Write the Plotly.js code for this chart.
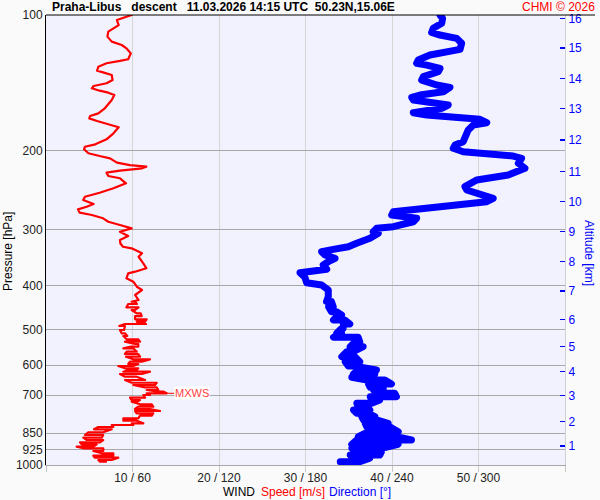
<!DOCTYPE html>
<html><head><meta charset="utf-8">
<script src="https://cdn.plot.ly/plotly-3.0.1.min.js"></script>
<style>html,body{margin:0;padding:0;background:#fafafa}#c{width:600px;height:500px}
.js-line{stroke-linejoin:round !important;stroke-linecap:round !important}</style>
</head><body><div id="c"></div>
<script>
// Wind speed profile (pressure hPa, speed m/s)
const speedP = [100,102.6,105.3,108.9,111.7,114.6,116.6,118.6,121.7,125.4,126.5,128.0,130.3,133.0,134.1,135.9,139.5,141.8,143.8,145.5,147.3,148.8,150.6,154.5,161.2,165.4,167.7,169.7,172.0,174.7,177.6,183.2,188.9,193.8,196.2,198.8,202.9,205.8,208.2,212.9,215.5,217.3,219.1,221.8,224.1,227.9,230.6,236.6,242.7,248.3,253.4,257.7,263.0,266.7,270.3,275.0,278.3,283.0,288.0,292.9,297.9,303.1,309.8,316.2,322.0,327.3,330.0,338.5,344.5,356.3,365.5,371.9,375.0,384.7,391.5,401.6,408.4,419.0,429.9,
  433.7,433.7,438.8,438.8,446.3,446.3,452.4,452.4,460.2,460.2,466.6,466.6,474.5,474.5,480.4,480.4,486.0,486.0,491.0,491.0,501.2,501.2,509.7,509.7,516.8,516.8,525.6,525.6,532.1,532.1,538.4,538.4,545.9,545.9,550.4,550.4,560.1,560.1,566.7,566.7,574.6,574.6,582.3,582.3,589.5,589.5,596.4,596.4,602.6,602.6,609.7,609.7,615.0,615.0,620.4,620.4,627.8,627.8,636.5,636.5,647.3,647.3,656.4,656.4,664.1,664.1,672.0,672.0,681.3,681.3,687.3,687.3,692.9,692.9,699.0,699.0,708.7,708.7,717.1,717.1,723.3,723.3,733.0,733.0,742.1,742.1,750.9,750.9,758.6,758.6,767.6,767.6,777.1,777.1,787.5,787.5,797.2,797.2,807.9,807.9,814.9,814.9,823.3,823.3,833.1,833.1,845.9,845.9,857.7,857.7,869.6,869.6,879.9,879.9,890.4,890.4,899.5,899.5,910.6,910.6,918.1,918.1,930.9,930.9,941.9,941.9,953.5,953.5,963.4,963.4,974.8,974.8,983.3,983.3];
const speed = [9.9,8.2,8.4,7.2,7.1,7.6,8.75,9.3,9.8,9.5,8.55,7.0,6.05,5.9,6.6,7.6,7.7,7.0,5.5,5.3,6.2,7.2,7.9,7.6,6.8,6.05,5.1,5.0,5.9,7.2,8.4,7.8,7.0,5.7,4.5,4.4,4.9,6.2,7.4,8.2,9.7,11.6,11.1,8.55,7.0,7.2,8.55,9.25,7.8,6.2,4.5,4.3,5.5,4.7,3.7,3.9,5.3,6.6,7.2,8.55,9.9,8.55,9.5,8.55,8.6,8.9,9.9,11.1,10.7,11.25,11.6,10.3,9.5,9.3,10.1,10.5,11.1,10.3,10.7,
  9.9,10.3,10.5,9.5,9.3,10.7,10.3,9.9,10.5,10.95,11.06,10.3,10.3,11.64,11.45,10.5,11.56,9.13,8.47,9.13,9.02,8.55,8.75,9.13,9.4,8.94,9.33,10.67,10.87,9.13,10.29,10.67,10.67,9.71,8.94,10.09,10.49,9.33,9.13,10.67,10.87,9.25,10.09,12.02,11.06,9.71,9.51,10.67,10.09,8.36,9.13,10.67,10.49,9.51,8.94,12.02,11.06,8.55,9.13,10.49,11.45,9.13,9.91,12.8,12.6,10.09,11.45,12.8,12.98,11.64,12.98,13.6,13.95,11.64,12.02,11.25,11.45,9.71,9.91,10.87,10.49,9.91,10.87,12.22,12.4,10.67,10.29,12.02,13.18,10.29,10.49,12.4,12.22,10.87,10.67,8.94,8.94,10.49,11.25,9.91,10.09,7.6,7.78,6.05,5.55,7.6,6.62,4.89,4.51,6.62,6.44,4.31,4.71,6.62,6.24,3.93,4.13,5.86,5.47,3.55,4.31,6.62,6.62,5.47,6.44,7.78,7.78,5.47,5.66,8.36,7.6,6.05,6.24,6.94];

// Wind direction profile (pressure hPa, direction deg)
const dirP = [100,101.7,104.3,107.0,109.3,110.8,112.7,115.6,119.2,120.7,122.7,125.9,128.0,129.2,131.4,133.7,137.1,139.5,143.1,144.8,148.1,150.6,152.4,154.5,156.3,158.5,161.2,163.2,164.9,166.8,168.8,170.5,173.5,175.6,180.1,186.4,191.2,194.5,197.8,201.3,202.9,205.8,208.2,213.6,219.1,223.0,226.8,232.6,240.7,244.8,249.9,255.5,260.0,264.4,268.9,273.6,278.3,283.0,288.0,295.4,297.9,303.1,305.6,313.5,321.6,327.3,331.7,335.8,341.5,347.3,353.4,359.4,367.4,370.0,373.8,382.7,393.5,398.1,408.4,422.7,
  433.2,433.2,444.9,444.9,456.4,456.4,464.2,464.2,476.2,476.2,486.0,486.0,496.9,496.9,509.7,509.7,520.3,520.3,532.1,532.1,545.9,545.9,560.1,560.1,574.6,574.6,589.5,589.5,602.6,602.6,615.0,615.0,627.8,627.8,638.5,638.5,647.3,647.3,660.7,660.7,672.0,672.0,681.3,681.3,692.9,692.9,705.1,705.1,717.1,717.1,729.3,729.3,742.1,742.1,754.7,754.7,767.6,767.6,781.0,781.0,794.3,794.3,807.9,807.9,822.1,822.1,843.3,843.3,865.2,865.2,879.9,879.9,899.5,899.5,918.1,918.1,934.2,934.2,950.1,950.1,966.3,966.3,983.3,983.3];
const direction = [273.3,275.1,274.5,268.6,267.5,273.3,284.9,288.3,287.2,277.9,266.3,258.2,257.1,264.1,273.3,272.1,261.7,260.6,271.0,280.2,275.6,259.4,253.7,254.8,268.6,279.0,274.5,257.1,254.8,264.1,287.2,301.0,305.7,296.4,292.9,290.6,289.4,283.7,282.5,289.4,308.0,324.1,329.9,327.6,332.2,326.5,320.6,298.7,290.6,291.8,301.0,310.2,305.7,287.2,264.1,240.9,239.8,257.1,254.8,240.9,229.4,227.0,230.5,224.7,215.5,209.7,199.3,191.2,193.5,200.5,195.8,192.3,194.7,183.1,176.2,179.6,180.8,191.2,195.8,195.8,
  194.6,198.0,199.2,196.0,198.0,201.5,205.0,202.9,199.4,207.2,210.7,206.3,206.1,205.0,201.7,205.0,199.4,216.5,217.6,214.5,211.0,220.0,213.1,208.6,205.2,214.2,217.6,207.5,209.8,213.1,229.2,216.7,213.3,228.1,224.6,212.1,222.5,235.0,239.6,223.7,224.9,233.9,233.9,227.2,230.6,241.9,243.1,224.9,226.0,231.5,225.8,215.6,216.7,222.3,224.6,213.3,215.6,223.5,228.1,219.0,220.2,229.2,237.3,221.4,222.5,238.4,244.3,223.7,216.7,243.1,253.5,215.6,212.1,244.3,232.7,212.1,216.7,232.7,231.5,211.0,214.5,224.6,217.6,204.1];

// Axis ticks
const pressureTicks = [100,200,300,400,500,600,700,850,925,1000];
const windTicks = [10,20,30,40,50,60];
const windTickText = ['10 / 60','20 / 120','30 / 180','40 / 240','50 / 300',''];
const altitudeKm = ['1','2','3','4','5','6','7','8','9','10','11','12','13','14','15','16'];
const altitudePressure = [906.5,800.6,700.8,619.8,545.2,474.6,410,352.9,302.8,259.8,222.7,189.6,161.4,138.4,118.4,101.8];

// max wind
let mi = 0; speed.forEach((v,i)=>{ if (v>speed[mi]) mi=i; });
const mxP = speedP[mi], mxS = speed[mi];

const F = 'Liberation Sans, Arial, sans-serif';
const L = 46, W = 519, T = 15, H = 450;
const px = x => (x - L) / W;
const py = y => (T + H - y) / H;

const traces = [
  {x: direction, y: dirP, xaxis:'x2', yaxis:'y', type:'scatter', mode:'lines',
   line:{color:'#0000ff', width:7}, hoverinfo:'skip'},
  {x: speed, y: speedP, xaxis:'x', yaxis:'y', type:'scatter', mode:'lines',
   line:{color:'#ff0000', width:2.2}, hoverinfo:'skip'},
  {x:[null], y:[null], xaxis:'x', yaxis:'y2', type:'scatter', mode:'lines', hoverinfo:'skip'}
];

const C = (x, y, text, color, extra) => Object.assign({xref:'paper', yref:'paper', x:px(x), y:py(y),
  xanchor:'center', yanchor:'middle', showarrow:false, text:text, font:{family:F, size:12, color:color}}, extra||{});

const layout = {
  width:600, height:500, showlegend:false,
  margin:{l:L, r:600-L-W, t:T, b:500-T-H, pad:0},
  paper_bgcolor:'#fafafa', plot_bgcolor:'#f2f2fe',
  font:{family:F, size:12, color:'#222'},
  xaxis:{range:[0,60], tickvals:windTicks, ticktext:windTickText, showgrid:true,
    gridcolor:'#d6d6d6', gridwidth:1, zeroline:false, ticks:'outside', ticklen:2,
    tickcolor:'#c8c8c8', showline:true, linecolor:'#a8a8a8', linewidth:1,
    minor:{tick0:0, dtick:10, ticks:'outside', ticklen:6, tickcolor:'#c8c8c8', showgrid:false},
    tickfont:{family:F, size:12, color:'#222'}, fixedrange:true},
  xaxis2:{range:[0,360], overlaying:'x', visible:false, fixedrange:true},
  yaxis:{type:'log', range:[3,2], tickvals:pressureTicks, ticktext:pressureTicks.map(String),
    showgrid:true, gridcolor:'#a8a8a8', gridwidth:1, zeroline:false, ticks:'',
    showline:true, linecolor:'#000', linewidth:1, tickfont:{family:F, size:12, color:'#222'}, fixedrange:true},
  yaxis2:{type:'log', range:[3,2], overlaying:'y', side:'right', tickvals:altitudePressure,
    ticktext:altitudeKm, ticks:'inside', ticklen:5, tickwidth:1.5, tickcolor:'#0000ff',
    showgrid:false, zeroline:false, showline:true, linecolor:'#d0d0d0', linewidth:1,
    tickfont:{family:F, size:12, color:'#0000ff'}, fixedrange:true},
  shapes:[
    {type:'line', xref:'paper', yref:'paper', x0:0, x1:px(595), y0:1, y1:1, line:{color:'#000', width:1}},
    {type:'line', xref:'paper', yref:'y', x0:px(43), x1:px(56), y0:Math.log10(mxP), y1:Math.log10(mxP), line:{color:'#ff0000', width:1}},
    {type:'line', xref:'paper', yref:'y', x0:px(555), x1:px(567), y0:Math.log10(mxP), y1:Math.log10(mxP), line:{color:'#ff0000', width:1}}
  ],
  annotations:[
    C(50, 7, 'Praha-Libus\u00a0\u00a0\u00a0descent\u00a0\u00a0\u00a011.03.2026 14:15 UTC\u00a0\u00a050.23N,15.06E', '#000',
      {xanchor:'left', font:{family:F, size:12, color:'#000', weight:'bold'}}),
    C(597, 7, 'CHMI © 2026', '#ff0000', {xanchor:'right'}),
    C(8, 252, 'Pressure [hPa]', '#000', {textangle:-90}),
    C(589, 253, 'Altitude [km]', '#0000ff', {textangle:90}),
    C(239.4, 492, 'WIND', '#000'),
    C(293, 492, 'Speed [m/s]', '#ff0000'),
    C(360, 492, 'Direction [°]', '#0000ff'),
    {xref:'x', yref:'y', x:mxS, y:Math.log10(mxP), ax:25, ay:0, showarrow:true, arrowhead:0,
     arrowwidth:1, arrowcolor:'#ff0000', standoff:0, text:'MXWS', bgcolor:'#ffffff', borderpad:0,
     font:{family:F, size:11, color:'#ff4040'}}
  ]
};
Plotly.newPlot('c', traces, layout, {displayModeBar:false, staticPlot:true});
</script></body></html>
